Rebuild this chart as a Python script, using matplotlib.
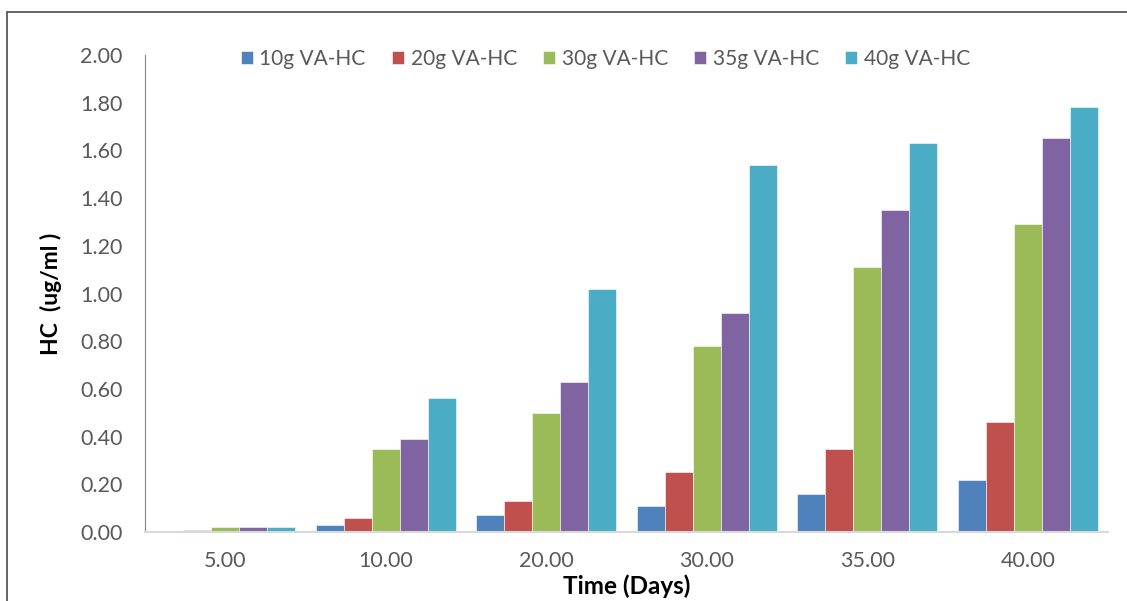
import numpy as np
import matplotlib
matplotlib.use("Agg")
import matplotlib.pyplot as plt
from matplotlib.patches import Rectangle

plt.rcParams['font.family'] = ['Lato', 'DejaVu Sans']

# Data
days = ["5.00", "10.00", "20.00", "30.00", "35.00", "40.00"]
series_names = ["10g VA-HC", "20g VA-HC", "30g VA-HC", "35g VA-HC", "40g VA-HC"]
hc_10g = [0.00, 0.03, 0.07, 0.11, 0.16, 0.22]
hc_20g = [0.01, 0.06, 0.13, 0.25, 0.35, 0.46]
hc_30g = [0.02, 0.35, 0.50, 0.78, 1.11, 1.29]
hc_35g = [0.02, 0.39, 0.63, 0.92, 1.35, 1.65]
hc_40g = [0.02, 0.56, 1.02, 1.54, 1.63, 1.78]
colors = ["#4F81BD", "#C0504D", "#9BBB59", "#8064A2", "#4BACC6"]

all_series = [hc_10g, hc_20g, hc_30g, hc_35g, hc_40g]

fig = plt.figure(figsize=(11.27, 6.01), dpi=100)
ax = fig.add_axes([145 / 1127, 1 - 532 / 601, (1108 - 145) / 1127, (532 - 55) / 601])

x = np.arange(len(days))
bw = 0.175
for i, (vals, name, c) in enumerate(zip(all_series, series_names, colors)):
    ax.bar(x + (i - 2) * bw, vals, width=bw, color=c, label=name,
           edgecolor="white", linewidth=0.4)

ax.set_xlim(-0.5, len(days) - 0.5)
ax.set_ylim(0, 2.0)
yt = np.arange(0, 2.01, 0.2)
ax.set_yticks(yt)
ax.set_yticklabels([f"{v:.2f}" for v in yt])
ax.set_xticks(x)
ax.set_xticklabels(days)
ax.tick_params(axis="both", length=0, labelsize=15.5, colors="#595959")
ax.tick_params(axis="x", pad=14)
ax.tick_params(axis="y", pad=16)

for s in ["top", "right"]:
    ax.spines[s].set_visible(False)
ax.spines["left"].set_color("#868686")
ax.spines["bottom"].set_color("#D9D9D9")
ax.spines["bottom"].set_linewidth(1.5)

ax.set_xlabel("Time (Days)", fontsize=17.5, fontweight="bold", color="black", labelpad=2)
ax.set_ylabel("HC  (ug/ml )", fontsize=16.5, fontweight="bold", color="black", labelpad=13)

ax.legend(loc="upper center", bbox_to_anchor=(0.478, 1.052), ncol=5, frameon=False,
          fontsize=15, handlelength=0.6, handleheight=0.6, handletextpad=0.3,
          columnspacing=1.25, labelcolor="#595959")

# outer chart border
fig.patches.append(Rectangle((7 / 1127, -0.1), 1.2, 1.1 - 12 / 601,
                             transform=fig.transFigure, fill=False,
                             edgecolor="#595959", linewidth=1.3))

fig.savefig("out.png", dpi=100)
